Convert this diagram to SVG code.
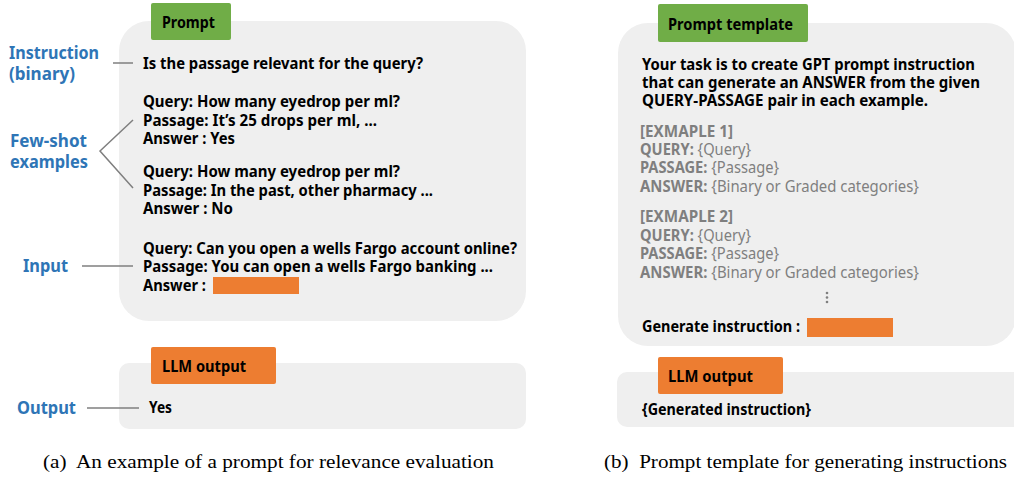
<svg xmlns="http://www.w3.org/2000/svg" width="1014" height="478" viewBox="0 0 1014 478">
<style>
.panel{fill:#efefef}
.green{fill:#70ad47}
.orange{fill:#ed7d31}
.t{font-family:"Noto Sans","Open Sans",sans-serif;font-weight:bold;font-size:16px;fill:#000}
.g{font-family:"Noto Sans","Open Sans",sans-serif;font-size:16px;fill:#7f7f7f}
.gb{font-weight:bold}
.lbl{font-family:"Noto Sans","Open Sans",sans-serif;font-weight:bold;font-size:18px;fill:#2e75b6}
.cap{font-family:"Liberation Serif","Times New Roman",serif;font-size:19.5px;fill:#000;white-space:pre}
.conn{stroke:#7f7f7f;stroke-width:1.5;fill:none}
</style>
<rect width="1014" height="478" fill="#ffffff"/>

<g id="prompt-a">
<rect class="panel" x="119" y="21" width="407" height="300" rx="30"/>
<rect class="green" x="151" y="3" width="80" height="37" rx="2"/>
<text class="t" x="162" y="28" textLength="53" lengthAdjust="spacingAndGlyphs">Prompt</text>
<text class="t" x="143" y="69" textLength="280" lengthAdjust="spacingAndGlyphs">Is the passage relevant for the query?</text>
<text class="t" x="143" y="107" textLength="257" lengthAdjust="spacingAndGlyphs">Query: How many eyedrop per ml?</text>
<text class="t" x="143" y="126" textLength="234" lengthAdjust="spacingAndGlyphs">Passage: It’s 25 drops per ml, ...</text>
<text class="t" x="143" y="144" textLength="92" lengthAdjust="spacingAndGlyphs">Answer : Yes</text>
<text class="t" x="143" y="177" textLength="257" lengthAdjust="spacingAndGlyphs">Query: How many eyedrop per ml?</text>
<text class="t" x="143" y="196" textLength="290" lengthAdjust="spacingAndGlyphs">Passage: In the past, other pharmacy ...</text>
<text class="t" x="143" y="214" textLength="90" lengthAdjust="spacingAndGlyphs">Answer : No</text>
<text class="t" x="143" y="254" textLength="374" lengthAdjust="spacingAndGlyphs">Query: Can you open a wells Fargo account online?</text>
<text class="t" x="143" y="272" textLength="350" lengthAdjust="spacingAndGlyphs">Passage: You can open a wells Fargo banking ...</text>
<text class="t" x="143" y="291" textLength="63" lengthAdjust="spacingAndGlyphs">Answer :</text>
<rect class="orange" x="213" y="277" width="86" height="17"/>
</g>

<g id="output-a">
<rect class="panel" x="119" y="363" width="407" height="66" rx="10"/>
<rect class="orange" x="151" y="347" width="125" height="37" rx="2"/>
<text class="t" x="162" y="372" textLength="84" lengthAdjust="spacingAndGlyphs">LLM output</text>
<text class="t" x="149" y="413" textLength="23" lengthAdjust="spacingAndGlyphs">Yes</text>
</g>

<g id="label-instruction">
<text class="lbl" x="9" y="59" textLength="90" lengthAdjust="spacingAndGlyphs">Instruction</text>
<text class="lbl" x="9" y="80" textLength="66" lengthAdjust="spacingAndGlyphs">(binary)</text>
</g>
<g id="label-fewshot">
<text class="lbl" x="10" y="147" textLength="77" lengthAdjust="spacingAndGlyphs">Few-shot</text>
<text class="lbl" x="10" y="168" textLength="78" lengthAdjust="spacingAndGlyphs">examples</text>
</g>
<g id="label-input">
<text class="lbl" x="23" y="272" textLength="45" lengthAdjust="spacingAndGlyphs">Input</text>
</g>
<g id="label-output">
<text class="lbl" x="17" y="414" textLength="59" lengthAdjust="spacingAndGlyphs">Output</text>
</g>

<g id="connectors">
<line class="conn" x1="113" y1="63" x2="133" y2="63"/>
<polyline class="conn" points="133,120 100,151 133,188"/>
<line class="conn" x1="82" y1="266" x2="133" y2="266"/>
<line class="conn" x1="87" y1="408" x2="139" y2="408"/>
</g>

<g id="prompt-b">
<rect class="panel" x="618" y="23" width="398" height="323" rx="30"/>
<rect class="green" x="658" y="4" width="150" height="38" rx="2"/>
<text class="t" x="668" y="30" textLength="125" lengthAdjust="spacingAndGlyphs">Prompt template</text>
<text class="t" x="642" y="70" textLength="333" lengthAdjust="spacingAndGlyphs">Your task is to create GPT prompt instruction</text>
<text class="t" x="642" y="88" textLength="338" lengthAdjust="spacingAndGlyphs">that can generate an ANSWER from the given</text>
<text class="t" x="642" y="106" textLength="286" lengthAdjust="spacingAndGlyphs">QUERY-PASSAGE pair in each example.</text>
<text class="g gb" x="640" y="137" textLength="93" lengthAdjust="spacingAndGlyphs">[EXMAPLE 1]</text>
<text class="g" x="640" y="155" textLength="111" lengthAdjust="spacingAndGlyphs"><tspan class="gb">QUERY:</tspan> {Query}</text>
<text class="g" x="640" y="173" textLength="139" lengthAdjust="spacingAndGlyphs"><tspan class="gb">PASSAGE:</tspan> {Passage}</text>
<text class="g" x="640" y="192" textLength="279" lengthAdjust="spacingAndGlyphs"><tspan class="gb">ANSWER:</tspan> {Binary or Graded categories}</text>
<text class="g gb" x="640" y="222" textLength="93" lengthAdjust="spacingAndGlyphs">[EXMAPLE 2]</text>
<text class="g" x="640" y="241" textLength="111" lengthAdjust="spacingAndGlyphs"><tspan class="gb">QUERY:</tspan> {Query}</text>
<text class="g" x="640" y="259" textLength="139" lengthAdjust="spacingAndGlyphs"><tspan class="gb">PASSAGE:</tspan> {Passage}</text>
<text class="g" x="640" y="278" textLength="279" lengthAdjust="spacingAndGlyphs"><tspan class="gb">ANSWER:</tspan> {Binary or Graded categories}</text>
<circle cx="827" cy="293" r="1.3" fill="#7f7f7f"/>
<circle cx="827" cy="297.5" r="1.3" fill="#7f7f7f"/>
<circle cx="827" cy="302" r="1.3" fill="#7f7f7f"/>
<text class="t" x="642" y="332" textLength="158" lengthAdjust="spacingAndGlyphs">Generate instruction :</text>
<rect class="orange" x="807" y="318" width="86" height="19"/>
</g>

<g id="output-b">
<rect class="panel" x="617" y="372" width="410" height="55" rx="10"/>
<rect class="orange" x="658" y="357" width="125" height="37" rx="2"/>
<text class="t" x="668" y="382" textLength="85" lengthAdjust="spacingAndGlyphs">LLM output</text>
<text class="t" x="642" y="415" textLength="169" lengthAdjust="spacingAndGlyphs">{Generated instruction}</text>
</g>

<g id="captions">
<text class="cap" x="43" y="468" xml:space="preserve" textLength="451" lengthAdjust="spacingAndGlyphs">(a)  An example of a prompt for relevance evaluation</text>
<text class="cap" x="604" y="468" xml:space="preserve" textLength="403" lengthAdjust="spacingAndGlyphs">(b)  Prompt template for generating instructions</text>
</g>
</svg>
